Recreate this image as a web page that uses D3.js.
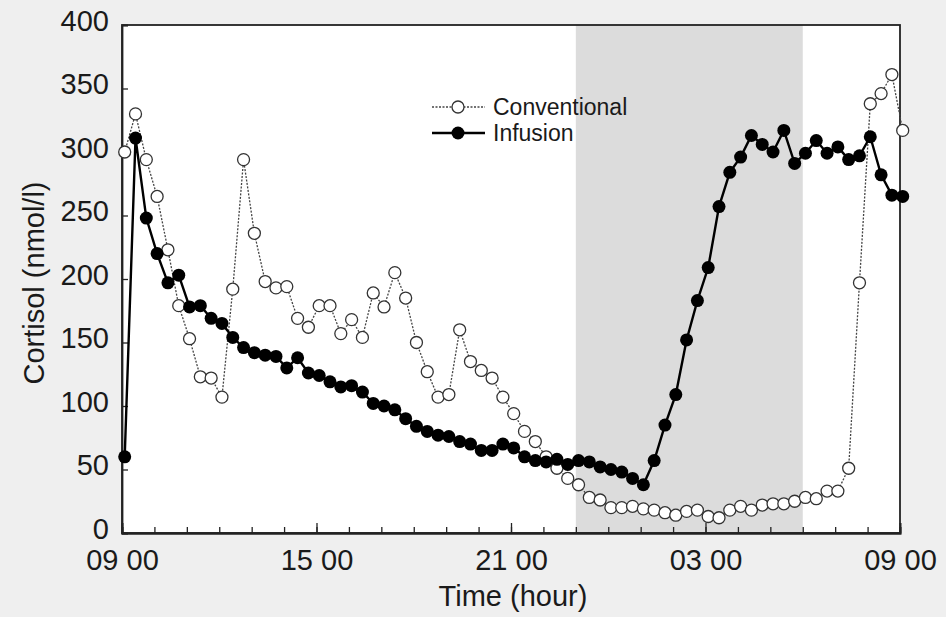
<!DOCTYPE html>
<html>
<head>
<meta charset="utf-8">
<script src="https://cdn.jsdelivr.net/npm/d3@7"></script>
<style>
	html, body { margin: 0; padding: 0; background: #efefef; }
	svg { display: block; font-family: 'Liberation Sans', Arial, sans-serif; }
</style>
</head>
<body>
<div id="chart"></div>
<script>
	// cortisol, nmol/l, sampled every 20 min from 09:05
	const conventional = [
		300, 330, 294, 265, 223, 179, 153, 123, 122, 107, 192, 294, 236, 198, 193, 194, 169, 162,
		179, 179, 157, 168, 154, 189, 178, 205, 185, 150, 127, 107, 109, 160, 135, 128, 122, 107,
		94, 80, 72, 60, 51, 43, 38, 28, 26, 20, 20, 21, 19, 18, 16, 14, 17, 18,
		13, 12, 18, 21, 18, 22, 23, 23, 25, 28, 27, 33, 33, 51, 197, 338, 346, 361, 317,
	];
	const infusion = [
		60, 311, 248, 220, 197, 203, 178, 179, 169, 165, 154, 146, 142, 140, 139, 130, 138, 126,
		124, 119, 115, 116, 111, 102, 100, 97, 90, 84, 80, 77, 76, 72, 70, 65, 65, 70,
		67, 60, 57, 56, 58, 54, 57, 56, 52, 50, 48, 43, 38, 57, 85, 109, 152, 183,
		209, 257, 284, 296, 313, 306, 300, 317, 291, 299, 309, 299, 304, 294, 297, 312, 282, 266, 265,
	];
	const sampleStartHour = 5 / 60; // hours after 09:00
	const sampleStepHour = 20 / 60;

	const majorTicks = [0, 6, 12, 18, 24];
	const majorLabels = ['09 00', '15 00', '21 00', '03 00', '09 00'];
	const yTicks = [0, 50, 100, 150, 200, 250, 300, 350, 400];
	const night = [14, 21]; // 23:00 - 06:00

	const series = [
		{ name: 'Conventional', values: conventional },
		{ name: 'Infusion', values: infusion },
	];

	const margin = { top: 25, right: 46, bottom: 84, left: 122 };
	const totalW = 946;
	const totalH = 617;
	const width = totalW - margin.left - margin.right;
	const height = totalH - margin.top - margin.bottom;

	const svg = d3.select('#chart').append('svg')
		.attr('width', totalW)
		.attr('height', totalH);

	const chart = svg.append('g')
		.attr('transform', `translate(${margin.left}, ${margin.top})`);

	const x = d3.scaleLinear().domain([0, 24]).range([0, width]);
	const y = d3.scaleLinear().domain([0, 400]).range([height, 0]);

	// plot background + lights-off band
	chart.append('rect')
		.attr('width', width)
		.attr('height', height)
		.style('fill', '#fff');
	chart.append('rect')
		.attr('x', x(night[0]))
		.attr('width', x(night[1]) - x(night[0]))
		.attr('height', height)
		.style('fill', '#dcdcdc');

	// frame
	chart.append('rect')
		.attr('width', width)
		.attr('height', height)
		.style('fill', 'none')
		.style('stroke', '#222')
		.style('stroke-width', 1.8);

	const xMinor = d3.axisBottom(x)
		.tickValues(d3.range(0, 25))
		.tickSize(-6)
		.tickFormat('');
	const xMajor = d3.axisBottom(x)
		.tickValues(majorTicks)
		.tickSize(-10)
		.tickPadding(16)
		.tickFormat((d, i) => majorLabels[i]);
	const yAxis = d3.axisLeft(y)
		.tickValues(yTicks)
		.tickSize(-6)
		.tickPadding(13);

	chart.append('g')
		.attr('transform', `translate(0, ${height})`)
		.call(xMinor);
	chart.append('g')
		.attr('class', 'x axis')
		.attr('transform', `translate(0, ${height})`)
		.call(xMajor);
	const yAxisG = chart.append('g')
		.attr('class', 'y axis')
		.call(yAxis);
	yAxisG.selectAll('text').attr('dy', '0.18em');

	chart.selectAll('.domain').style('stroke', '#222').style('stroke-width', 1.8);
	chart.selectAll('.tick line').style('stroke', '#222').style('stroke-width', 1.3);
	chart.selectAll('.tick text')
		.style('font-size', '29px')
		.style('fill', '#1a1a1a');

	const t = i => sampleStartHour + i * sampleStepHour;
	const lineFunc = d3.line()
		.x((d, i) => x(t(i)))
		.y(d => y(d));

	// conventional: dotted line, open circles
	chart.append('path')
		.datum(conventional)
		.style('fill', 'none')
		.style('stroke', '#444')
		.style('stroke-width', 1.3)
		.style('stroke-dasharray', '2,1.5')
		.attr('d', lineFunc);
	chart.append('g').selectAll('circle')
		.data(conventional)
		.enter().append('circle')
			.attr('cx', (d, i) => x(t(i)))
			.attr('cy', d => y(d))
			.attr('r', 6)
			.style('fill', '#fff')
			.style('stroke', '#333')
			.style('stroke-width', 1.3);

	// infusion: solid line, filled circles
	chart.append('path')
		.datum(infusion)
		.style('fill', 'none')
		.style('stroke', '#000')
		.style('stroke-width', 2.4)
		.attr('d', lineFunc);
	chart.append('g').selectAll('circle')
		.data(infusion)
		.enter().append('circle')
			.attr('cx', (d, i) => x(t(i)))
			.attr('cy', d => y(d))
			.attr('r', 6.5)
			.style('fill', '#000');

	// legend
	const legend = svg.append('g')
		.attr('transform', 'translate(432, 107)')
		.selectAll('g')
		.data(series)
		.enter().append('g')
			.attr('transform', (d, i) => `translate(0, ${i * 26})`);
	legend.append('line')
		.attr('x1', 0)
		.attr('x2', 53)
		.style('stroke', d => d.name === 'Infusion' ? '#000' : '#444')
		.style('stroke-width', d => d.name === 'Infusion' ? 2.4 : 1.3)
		.style('stroke-dasharray', d => d.name === 'Infusion' ? null : '2,1.5');
	legend.append('circle')
		.attr('cx', 26)
		.attr('r', d => d.name === 'Infusion' ? 6.5 : 6)
		.style('fill', d => d.name === 'Infusion' ? '#000' : '#fff')
		.style('stroke', d => d.name === 'Infusion' ? null : '#333')
		.style('stroke-width', 1.3);
	legend.append('text')
		.attr('x', 61)
		.attr('dy', '0.35em')
		.style('font-size', '23px')
		.style('fill', '#1a1a1a')
		.text(d => d.name);

	// axis titles
	svg.append('text')
		.attr('x', 513)
		.attr('y', 606)
		.style('font-size', '29px')
		.style('fill', '#1a1a1a')
		.style('text-anchor', 'middle')
		.text('Time (hour)');
	svg.append('text')
		.attr('transform', `translate(44, ${margin.top + y(200) + 4}) rotate(-90)`)
		.style('font-size', '29px')
		.style('fill', '#1a1a1a')
		.style('text-anchor', 'middle')
		.text('Cortisol (nmol/l)');
</script>
</body>
</html>
